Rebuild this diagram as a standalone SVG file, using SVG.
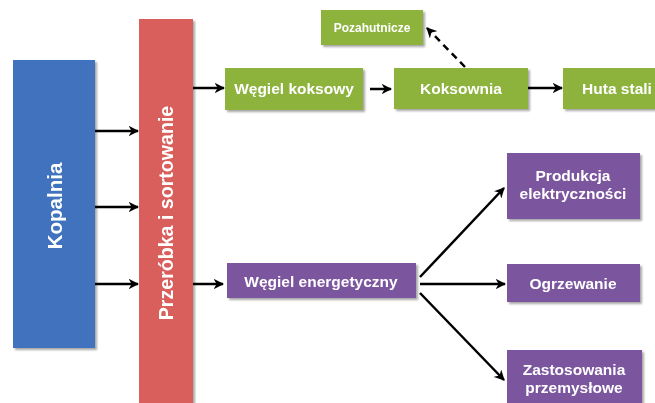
<svg xmlns="http://www.w3.org/2000/svg" width="655" height="403" viewBox="0 0 655 403">
  <defs>
    <style>
      .lbl { font-family: "Liberation Sans", Arial, sans-serif; font-weight: bold; fill: #ffffff; text-anchor: middle; }
      .blue { fill: #3F72BD; }
      .red { fill: #D95F5B; }
      .green { fill: #8DB33E; }
      .purple { fill: #7B559F; }
      .edge { stroke: #000000; stroke-width: 2.5; fill: none; }
      .dash { stroke-dasharray: 7 5; }
    </style>
    <filter id="shadow" x="-10%" y="-10%" width="130%" height="130%">
      <feGaussianBlur in="SourceAlpha" stdDeviation="1.2"/>
      <feOffset dx="1.5" dy="2" result="off"/>
      <feComponentTransfer><feFuncA type="linear" slope="0.35"/></feComponentTransfer>
      <feMerge><feMergeNode/><feMergeNode in="SourceGraphic"/></feMerge>
    </filter>
    <marker id="arrow" viewBox="0 0 10 10" refX="9" refY="5" markerWidth="4.2" markerHeight="4.2" orient="auto" markerUnits="strokeWidth">
      <path d="M0,0 L10,5 L0,10 L3,5 Z" fill="#000000"/>
    </marker>
  </defs>

  <g id="kopalnia" filter="url(#shadow)">
    <rect class="blue" x="13" y="60" width="82" height="288"/>
    <text class="lbl" font-size="20.5" transform="translate(61.5,206) rotate(-90)">Kopalnia</text>
  </g>

  <g id="przerobka" filter="url(#shadow)">
    <rect class="red" x="139" y="19" width="54" height="400"/>
    <text class="lbl" font-size="19.6" transform="translate(173,213) rotate(-90)">Przeróbka i sortowanie</text>
  </g>

  <g id="wegiel-koksowy" filter="url(#shadow)">
    <rect class="green" x="225" y="68" width="138" height="42"/>
    <text class="lbl" font-size="15.5" x="294" y="94">Węgiel koksowy</text>
  </g>

  <g id="koksownia" filter="url(#shadow)">
    <rect class="green" x="394" y="68" width="134" height="41"/>
    <text class="lbl" font-size="15.5" x="461" y="94">Koksownia</text>
  </g>

  <g id="huta-stali" filter="url(#shadow)">
    <rect class="green" x="563" y="68" width="108" height="41"/>
    <text class="lbl" font-size="15.5" x="617" y="94">Huta stali</text>
  </g>

  <g id="pozahutnicze" filter="url(#shadow)">
    <rect class="green" x="321" y="10" width="102" height="35"/>
    <text class="lbl" font-size="12" x="372" y="31.5">Pozahutnicze</text>
  </g>

  <g id="wegiel-energetyczny" filter="url(#shadow)">
    <rect class="purple" x="227" y="263" width="189" height="35"/>
    <text class="lbl" font-size="15.5" x="321" y="286.5">Węgiel energetyczny</text>
  </g>

  <g id="produkcja" filter="url(#shadow)">
    <rect class="purple" x="507" y="153" width="133" height="66"/>
    <text class="lbl" font-size="15.5" x="573" y="181">Produkcja</text>
    <text class="lbl" font-size="15.5" x="573" y="199">elektryczności</text>
  </g>

  <g id="ogrzewanie" filter="url(#shadow)">
    <rect class="purple" x="507" y="264" width="133" height="38"/>
    <text class="lbl" font-size="15.5" x="573" y="288.5">Ogrzewanie</text>
  </g>

  <g id="zastosowania" filter="url(#shadow)">
    <rect class="purple" x="507" y="350" width="135" height="70"/>
    <text class="lbl" font-size="15.5" x="574" y="375">Zastosowania</text>
    <text class="lbl" font-size="15.5" x="574" y="393">przemysłowe</text>
  </g>

  <g id="connectors">
    <line class="edge" x1="95" y1="131" x2="138" y2="131" marker-end="url(#arrow)"/>
    <line class="edge" x1="95" y1="207" x2="138" y2="207" marker-end="url(#arrow)"/>
    <line class="edge" x1="95" y1="284" x2="138" y2="284" marker-end="url(#arrow)"/>
    <line class="edge" x1="193" y1="88" x2="224" y2="88" marker-end="url(#arrow)"/>
    <line class="edge" x1="193" y1="284" x2="223" y2="284" marker-end="url(#arrow)"/>
    <line class="edge" x1="370" y1="89" x2="391" y2="89" marker-end="url(#arrow)"/>
    <line class="edge" x1="528" y1="88" x2="562" y2="88" marker-end="url(#arrow)"/>
    <line class="edge dash" x1="465" y1="67" x2="427" y2="28" marker-end="url(#arrow)"/>
    <line class="edge" x1="420" y1="277" x2="504" y2="188" marker-end="url(#arrow)"/>
    <line class="edge" x1="420" y1="284" x2="505" y2="284" marker-end="url(#arrow)"/>
    <line class="edge" x1="420" y1="293" x2="504" y2="380" marker-end="url(#arrow)"/>
  </g>
</svg>
